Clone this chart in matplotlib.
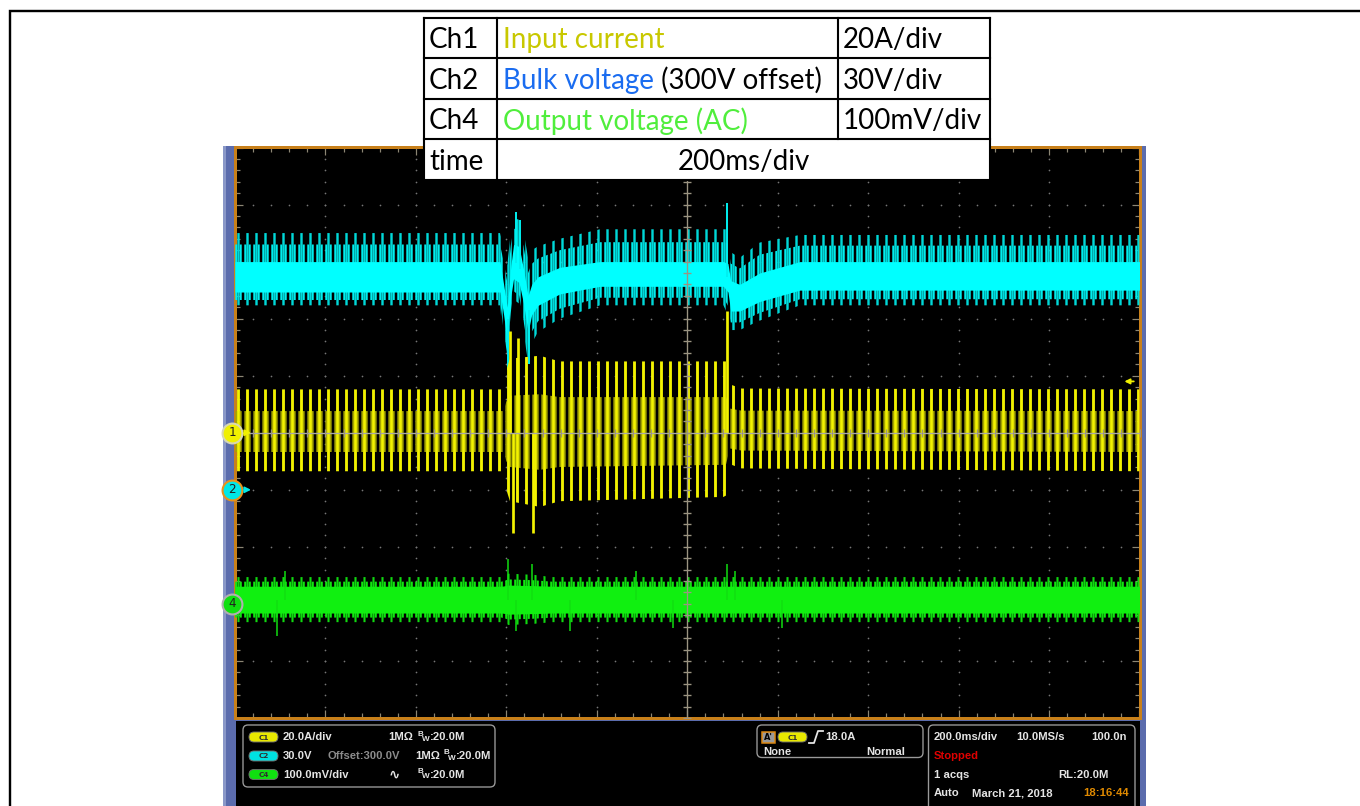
import numpy as np
import matplotlib
matplotlib.use('Agg')
import matplotlib.pyplot as plt
from matplotlib.patches import Rectangle, FancyBboxPatch

DPI = 108
W, H = 1360, 806

# scope settings (from the readout and the table)
ch_names = ['Ch1', 'Ch2', 'Ch4']
ch_desc = ['Input current', 'Bulk voltage', 'Output voltage (AC)']
ch_desc_colors = ['#c8c800', '#1a6cf0', '#50ee3c']
ch_div_label = ['20A/div', '30V/div', '100mV/div']
time_label = '200ms/div'
ch_pos = [0.0, -1.0, -3.0]        # ground marker position, div
ch_scale = [20.0, 30.0, 100.0]    # A/div, V/div, mV/div
ch_offset = [0.0, 300.0, 0.0]
trig_level = 18.0                 # A
ms_per_div = 200.0

# Ch1 input current envelope (A), time in ms from trigger
i_t = [-1000, -406, -400, -392, -326, -282, 80, 86, 94, 120, 1000]
i_hi = [15.2, 15.2, 22, 26, 27, 25, 25, 25, 17, 15.5, 15.2]
i_lo = [-13.5, -13.5, -20, -24, -26, -24, -22.5, -22, -11, -12.5, -13.5]
i_spike_t = [-392, -374, 88, -385, -341]
i_spike_v = [35.5, 33.1, 42.6, -35.2, -35.2]

# Ch2 bulk voltage envelope (V)
v_t = [-1000, -414, -406, -398, -390, -384, -372, -362, -352, -344, -330, -282, -193, 80, 90, 96, 116, 160, 249, 1000]
v_hi = [435, 435, 428, 418, 436, 443, 442, 436, 422, 426, 428, 432, 437, 437, 437, 425, 422, 430, 434, 434]
v_core_hi = [420, 420, 408, 396, 418, 429, 428, 416, 402, 408, 412, 417, 420, 420, 419, 410, 408, 414, 420, 420]
v_core_lo = [404, 404, 392, 378, 402, 411, 409, 398, 383, 392, 397, 403, 407, 407, 404, 394, 394, 399, 405, 405]
v_lo = [397, 397, 378, 366, 388, 400, 398, 383, 367, 377, 383, 390, 397, 397, 392, 384, 384, 389, 397, 397]
v_spike_t = [-378, -370, 88, -397, -350]
v_spike_v = [446, 442, 450.6, 363, 366]

# Ch4 output voltage ripple envelope (mV)
g_t = [-1000, -410, -395, -340, -300, 1000]
g_hi = [47, 47, 53, 51, 47, 47]
g_core_hi = [31, 31, 33, 32, 31, 31]
g_core_lo = [-16, -16, -18, -17, -16, -16]
g_lo = [-32, -32, -37, -35, -32, -32]
g_spike_t = [-889, -396, -343, -113, 88, 106, -907, -379, -259, -32, 209]
g_spike_v = [57, 78, 70, 57, 70, 57, -57, -48, -48, -42, -42]


def to_div(vals, k):
    return ch_pos[k] + (np.asarray(vals, dtype=float) - ch_offset[k]) / ch_scale[k]


fig = plt.figure(figsize=(W / DPI, H / DPI), dpi=DPI)
fig.patch.set_facecolor('white')

# background layer in pixel coordinates
bg = fig.add_axes([0, 0, 1, 1], zorder=0)
bg.set_xlim(0, W)
bg.set_ylim(H, 0)
bg.axis('off')
bg.plot([10, 10, W], [H, 11, 11], color='black', lw=1.6, solid_joinstyle='miter')
bg.add_patch(Rectangle((223, 146), 923, 660, facecolor='#5b6cad', lw=0))
bg.add_patch(Rectangle((223, 146), 3, 660, facecolor='#8a98c8', lw=0))
bg.add_patch(Rectangle((236, 721), 903.5, 85, facecolor='black', lw=0))


def rbox(x0, y0, x1, y1):
    bg.add_patch(FancyBboxPatch((x0, y0), x1 - x0, y1 - y0,
                                boxstyle='round,pad=0,rounding_size=5',
                                facecolor='black', edgecolor='#9a9a9a', lw=0.9))


def ptxt(x, y, s, color='#e4e4e4', ha='left', size=7.5):
    bg.text(x, y, s, color=color, ha=ha, va='center', fontsize=size,
            fontweight='bold', family=['Liberation Sans', 'DejaVu Sans'])


def pill(x, y, label, color):
    bg.add_patch(FancyBboxPatch((x, y - 5), 29, 10,
                                boxstyle='round,pad=0,rounding_size=5',
                                facecolor=color, edgecolor='#707070', lw=0.6))
    bg.text(x + 14.5, y + 0.5, label, ha='center', va='center', fontsize=4.8,
            color='#303030', fontweight='bold')


def bw(x, y):
    ptxt(x, y - 3, 'B', size=5.4)
    ptxt(x + 5, y + 2.5, 'W', size=5.4)
    ptxt(x + 12.5, y, ':20.0M')


rbox(243, 725, 495, 787)
rbox(757, 725, 923, 757.5)
rbox(928.5, 725, 1135, 815)

pill(249, 737, 'C1', '#e8e800')
ptxt(283, 737, '20.0A/div')
ptxt(388, 737, '1M\u03a9')
bw(417, 737)
pill(249, 756, 'C2', '#00e0e0')
ptxt(283, 756, '30.0V')
ptxt(328, 756, 'Offset:300.0V', color='#8c8c8c')
ptxt(415, 756, '1M\u03a9')
bw(443, 756)
pill(249, 774.5, 'C4', '#10e010')
ptxt(283, 774.5, '100.0mV/div')
ptxt(389, 774.5, '\u223f', size=9)
bw(417, 774.5)

bg.add_patch(Rectangle((762, 731.5), 13, 11.5, facecolor='#9a9a9a', edgecolor='#e08a10', lw=1))
bg.text(768.5, 737.5, "A'", ha='center', va='center', fontsize=5.5, fontweight='bold', color='black')
pill(778, 737, 'C1', '#e8e800')
bg.plot([809, 814, 818, 823], [743, 743, 731, 731], color='#e4e4e4', lw=1.2)
ptxt(825, 737, '18.0A')
ptxt(763, 752, 'None')
ptxt(905, 752, 'Normal', ha='right')

ptxt(934, 737, '200.0ms/div')
ptxt(1016, 737, '10.0MS/s')
ptxt(1127, 737, '100.0n', ha='right')
ptxt(934, 756, 'Stopped', color='#e00000')
ptxt(934, 774.5, '1 acqs')
ptxt(1109, 774.5, 'RL:20.0M', ha='right')
ptxt(934, 793, 'Auto')
ptxt(972, 793, 'March 21, 2018')
ptxt(1129, 793, '18:16:44', color='#e08a00', ha='right')

# scope screen
ax = fig.add_axes([235 / W, 1 - 718 / H, (1139.5 - 235) / W, (718 - 147.5) / H], zorder=1)
ax.set_facecolor('black')
ax.set_xlim(-5 * ms_per_div, 5 * ms_per_div)
ax.set_ylim(-5, 5)
for s in ax.spines.values():
    s.set_color('#c8801a')
    s.set_linewidth(2.0)
ax.set_xticks(np.arange(-5, 6) * ms_per_div)
ax.set_xticks(np.arange(-5, 5.01, 0.2) * ms_per_div, minor=True)
ax.set_yticks(np.arange(-5, 6))
ax.set_yticks(np.arange(-5, 5.01, 0.2), minor=True)
ax.tick_params(which='both', direction='in', top=True, right=True, labelbottom=False,
               labelleft=False, color='#8c8674', width=0.8)
ax.tick_params(which='major', length=5.5)
ax.tick_params(which='minor', length=3.5)

minor_x = np.arange(-5, 5.01, 0.2) * ms_per_div
minor_y = np.arange(-5, 5.01, 0.2)
gx, gy = np.meshgrid(minor_x, np.arange(-4, 5))
ax.scatter(gx.ravel(), gy.ravel(), s=1.3, c='#767676', lw=0, zorder=1)
gx, gy = np.meshgrid(np.arange(-4, 5) * ms_per_div, minor_y)
ax.scatter(gx.ravel(), gy.ravel(), s=1.3, c='#767676', lw=0, zorder=1)


def hatched(t, lo, hi, color, hatch, lw, z):
    # the hatch width is taken from rcParams when the fill is made
    plt.rcParams['hatch.linewidth'] = lw
    pc = ax.fill_between(t, lo, hi, facecolor='none', edgecolor=color, linewidth=0,
                         hatch=hatch, zorder=z)
    if hasattr(pc, 'set_hatch_linewidth'):
        pc.set_hatch_linewidth(lw)
    return pc


# Ch2 bulk voltage
vh, vch, vcl, vl = (to_div(a, 1) for a in (v_hi, v_core_hi, v_core_lo, v_lo))
hatched(v_t, vl, vh, '#00d8d8', '||', 1.6, 3)
hatched(v_t, vcl - 0.6 * (vcl - vl), vch + 0.6 * (vh - vch), '#00eeee', '||||', 1.3, 3)
ax.fill_between(v_t, vcl, vch, color='#00ffff', lw=0, zorder=4)
ax.vlines(v_spike_t, np.interp(v_spike_t, v_t, (vch + vcl) / 2), to_div(v_spike_v, 1),
          color='#00f0f0', lw=1.3, zorder=4)

# Ch1 input current
ih, il = to_div(i_hi, 0), to_div(i_lo, 0)
hatched(i_t, 0.5 * il, 0.5 * ih, '#a6a600', '||||', 1.2, 3)
hatched(i_t, il, ih, '#f2f200', '||', 1.9, 4)
ax.vlines(i_spike_t, 0, to_div(i_spike_v, 0), color='#f2f200', lw=1.8, zorder=4)

# Ch4 output voltage
gh, gch, gcl, gl = (to_div(a, 2) for a in (g_hi, g_core_hi, g_core_lo, g_lo))
hatched(g_t, gl, gh, '#10d810', '||', 1.4, 3)
hatched(g_t, gcl - 0.5 * (gcl - gl), gch + 0.5 * (gh - gch), '#10e810', '||||', 1.4, 3)
ax.fill_between(g_t, gcl, gch, color='#10f010', lw=0, zorder=4)
ax.vlines(g_spike_t, np.interp(g_spike_t, g_t, (gch + gcl) / 2), to_div(g_spike_v, 2),
          color='#10e010', lw=1.0, zorder=4)

# centre cross of the graticule
ax.axvline(0, color='#9b9482', lw=0.9, zorder=6)
ax.axhline(0, color='#a8a8a8', lw=0.9, zorder=6)
ax.plot(np.zeros_like(minor_y), minor_y, ls='none', marker='_', ms=5, mew=0.9, color='#9b9482', zorder=6)
ax.plot(minor_x, np.zeros_like(minor_x), ls='none', marker='|', ms=5, mew=0.9, color='#9b9482', zorder=6)

# channel ground markers and trigger level
ytr = ax.get_yaxis_transform()
mk_fill = ['#f0f000', '#00e8e8', '#10e010']
mk_ring = ['#d8d8b0', '#e8921c', '#b0b0b0']
for k, lab in enumerate(['1', '2', '4']):
    ax.scatter([-0.003], [ch_pos[k]], s=175, transform=ytr, clip_on=False, zorder=8,
               facecolor=mk_fill[k], edgecolor=mk_ring[k], lw=1.4)
    ax.text(-0.003, ch_pos[k], lab, transform=ytr, ha='center', va='center', fontsize=8,
            color='#202020', clip_on=False, zorder=9)
    if k < 2:
        ax.annotate('', xy=(0.021, ch_pos[k]), xytext=(0.007, ch_pos[k]), xycoords=ytr,
                    arrowprops=dict(arrowstyle='-|>', color=mk_fill[k], lw=1.2,
                                    mutation_scale=8), zorder=9)
ax.annotate('', xy=(0.98, to_div(trig_level, 0)), xytext=(0.997, to_div(trig_level, 0)),
            xycoords=ytr, arrowprops=dict(arrowstyle='-|>', color='#f0f000', lw=1.2,
                                          mutation_scale=7), zorder=9)

# legend table
top = fig.add_axes([0, 0, 1, 1], zorder=2)
top.set_xlim(0, W)
top.set_ylim(H, 0)
top.axis('off')
rows_y = [17.5, 58, 98.5, 139, 179.5]
cols_x = [424, 497, 838, 990]
top.add_patch(Rectangle((cols_x[0], rows_y[0]), cols_x[-1] - cols_x[0], rows_y[-1] - rows_y[0],
                        facecolor='white', lw=0))
for y in rows_y:
    top.plot([cols_x[0], cols_x[-1]], [y, y], color='black', lw=1.4, solid_capstyle='projecting')
for x in [cols_x[0], cols_x[1], cols_x[3]]:
    top.plot([x, x], [rows_y[0], rows_y[-1]], color='black', lw=1.4, solid_capstyle='projecting')
top.plot([cols_x[2], cols_x[2]], [rows_y[0], rows_y[3]], color='black', lw=1.4)

tfont = dict(family=['Lato', 'DejaVu Sans'], fontsize=18.5, va='center')
for r in range(3):
    yc = (rows_y[r] + rows_y[r + 1]) / 2 + 2.5
    top.text(cols_x[0] + 5, yc, ch_names[r], color='black', **tfont)
    t1 = top.text(cols_x[1] + 6, yc, ch_desc[r], color=ch_desc_colors[r], **tfont)
    if r == 1:
        top.annotate(' (300V offset)', xy=(1, 0.5), xycoords=t1, color='black',
                     family=['Lato', 'DejaVu Sans'], fontsize=18.5, va='center')
    top.text(cols_x[2] + 5, yc, ch_div_label[r], color='black', **tfont)
yc = (rows_y[3] + rows_y[4]) / 2 + 2.5
top.text(cols_x[0] + 5, yc, 'time', color='black', **tfont)
top.text((cols_x[1] + cols_x[3]) / 2, yc, time_label, color='black', ha='center',
         family=['Lato', 'DejaVu Sans'], fontsize=18.5, va='center')

fig.savefig('out.png', dpi=DPI, facecolor='white')
